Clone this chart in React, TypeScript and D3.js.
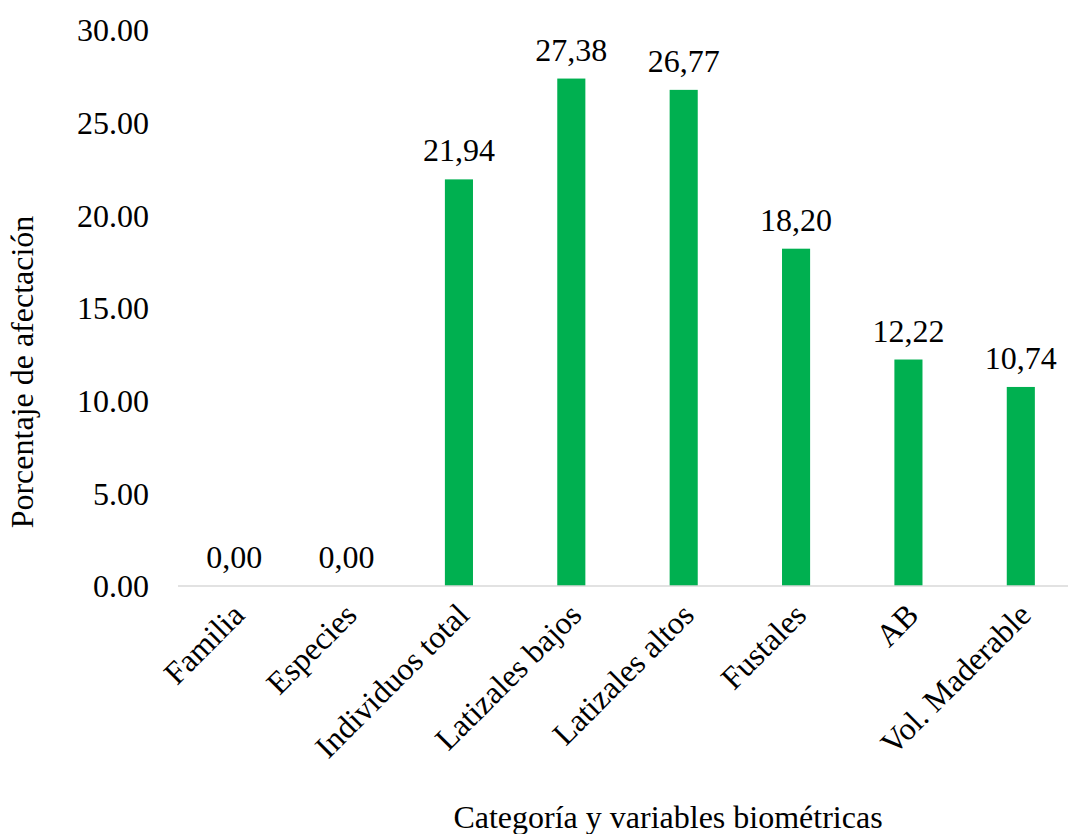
import React from "react";
import * as d3 from "d3";

const categories = ["Familia", "Especies", "Individuos total", "Latizales bajos", "Latizales altos", "Fustales", "AB", "Vol. Maderable"];
const values = [0, 0, 21.94, 27.38, 26.77, 18.2, 12.22, 10.74];
const yTicks = [0, 5, 10, 15, 20, 25, 30];

export default function App() {
  const W = 1068, H = 834;
  const x0 = 178, x1 = 1077, yTop = 30, yBot = 586;
  const x = d3.scaleBand<string>().domain(categories).range([x0, x1]).paddingInner(0.75).paddingOuter(0.375);
  const y = d3.scaleLinear().domain([0, 30]).range([yBot, yTop]);
  const fs = 32;
  const ts = { fontFamily: "Liberation Serif", fontSize: fs, fill: "#000" } as React.CSSProperties;
  return (
    <svg width={W} height={H} style={{ position: "absolute", left: 0, top: 0 }}>
      <rect width={W} height={H} fill="#fff" />
      {yTicks.map((t) => (
        <text key={t} x={149} y={y(t)} dy="0.35em" textAnchor="end" style={ts}>
          {t.toFixed(2)}
        </text>
      ))}
      {categories.map((c, i) => (
        <rect key={c} x={x(c)} y={y(values[i])} width={x.bandwidth()} height={yBot - y(values[i])} fill="#00b050" />
      ))}
      <line x1={x0} x2={W} y1={yBot} y2={yBot} stroke="#d9d9d9" strokeWidth={1.5} />
      {categories.map((c, i) => (
        <text key={c + "v"} x={(x(c) as number) + x.bandwidth() / 2} y={y(values[i]) - 18} textAnchor="middle" style={ts}>
          {values[i].toFixed(2).replace(".", ",")}
        </text>
      ))}
      {categories.map((c) => {
        const cx = (x(c) as number) + x.bandwidth() / 2 + 12;
        const cy = 617;
        return (
          <text key={c + "l"} x={cx} y={cy} textAnchor="end" style={ts} transform={`rotate(-45 ${cx} ${cy})`}>
            {c}
          </text>
        );
      })}
      <text x={668} y={828} textAnchor="middle" style={ts}>Categoría y variables biométricas</text>
      <text transform={`translate(33 372) rotate(-90)`} textAnchor="middle" style={ts}>Porcentaje de afectación</text>
    </svg>
  );
}
